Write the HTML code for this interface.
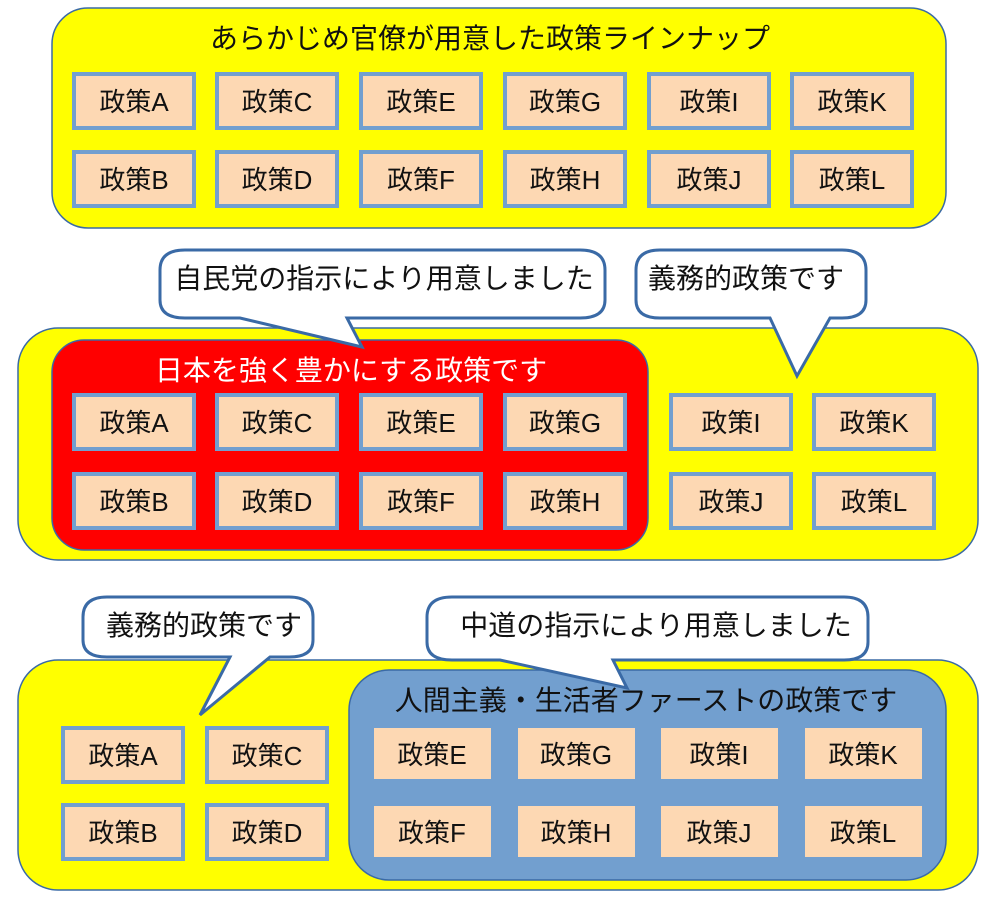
<!DOCTYPE html>
<html><head><meta charset="utf-8"><style>
html,body{margin:0;padding:0;background:#fff;}
svg text{font-family:"Liberation Sans","Noto Sans CJK JP",sans-serif;}
</style></head><body>
<svg width="1004" height="901" viewBox="0 0 1004 901" xmlns="http://www.w3.org/2000/svg">
<defs>
<g id="b"><rect x="2" y="2" width="120" height="54" fill="#fdd8b3" stroke="#729fcf" stroke-width="4"/></g>
</defs>
<!-- Top panel -->
<rect x="52" y="8" width="894" height="220" rx="36" fill="#ffff00" stroke="#3a6aa6" stroke-width="1.5"/>
<text x="490" y="48" font-size="28" text-anchor="middle" fill="#111">あらかじめ官僚が用意した政策ラインナップ</text>
<g font-size="26" text-anchor="middle" fill="#111">
<g transform="translate(72,72)"><use href="#b"/><text x="62" y="39">政策A</text></g>
<g transform="translate(215,72)"><use href="#b"/><text x="62" y="39">政策C</text></g>
<g transform="translate(359,72)"><use href="#b"/><text x="62" y="39">政策E</text></g>
<g transform="translate(503,72)"><use href="#b"/><text x="62" y="39">政策G</text></g>
<g transform="translate(647,72)"><use href="#b"/><text x="62" y="39">政策I</text></g>
<g transform="translate(790,72)"><use href="#b"/><text x="62" y="39">政策K</text></g>
<g transform="translate(72,150)"><use href="#b"/><text x="62" y="39">政策B</text></g>
<g transform="translate(215,150)"><use href="#b"/><text x="62" y="39">政策D</text></g>
<g transform="translate(359,150)"><use href="#b"/><text x="62" y="39">政策F</text></g>
<g transform="translate(503,150)"><use href="#b"/><text x="62" y="39">政策H</text></g>
<g transform="translate(647,150)"><use href="#b"/><text x="62" y="39">政策J</text></g>
<g transform="translate(790,150)"><use href="#b"/><text x="62" y="39">政策L</text></g>
</g>

<!-- Middle panel -->
<rect x="18" y="328" width="960" height="232" rx="40" fill="#ffff00" stroke="#3a6aa6" stroke-width="1.5"/>
<rect x="52" y="340" width="596" height="210" rx="32" fill="#ff0000" stroke="#3a6aa6" stroke-width="1.5"/>
<text x="351" y="380" font-size="28" text-anchor="middle" fill="#fff">日本を強く豊かにする政策です</text>
<g font-size="26" text-anchor="middle" fill="#111">
<g transform="translate(72,393)"><use href="#b"/><text x="62" y="39">政策A</text></g>
<g transform="translate(215,393)"><use href="#b"/><text x="62" y="39">政策C</text></g>
<g transform="translate(359,393)"><use href="#b"/><text x="62" y="39">政策E</text></g>
<g transform="translate(503,393)"><use href="#b"/><text x="62" y="39">政策G</text></g>
<g transform="translate(72,472)"><use href="#b"/><text x="62" y="39">政策B</text></g>
<g transform="translate(215,472)"><use href="#b"/><text x="62" y="39">政策D</text></g>
<g transform="translate(359,472)"><use href="#b"/><text x="62" y="39">政策F</text></g>
<g transform="translate(503,472)"><use href="#b"/><text x="62" y="39">政策H</text></g>
<g transform="translate(669,393)"><use href="#b"/><text x="62" y="39">政策I</text></g>
<g transform="translate(812,393)"><use href="#b"/><text x="62" y="39">政策K</text></g>
<g transform="translate(669,472)"><use href="#b"/><text x="62" y="39">政策J</text></g>
<g transform="translate(812,472)"><use href="#b"/><text x="62" y="39">政策L</text></g>
</g>

<!-- Callouts middle -->
<path d="M185,250 L580,250 Q605,250 605,270 L605,300 Q605,318 580,318 L347,318 L362,347 L240,318 L185,318 Q160,318 160,300 L160,270 Q160,250 185,250 Z" fill="#fff" stroke="#3a6aa6" stroke-width="3"/>
<text x="384" y="288" font-size="28" text-anchor="middle" fill="#111">自民党の指示により用意しました</text>
<path d="M660,250 L842,250 Q866,250 866,270 L866,300 Q866,318 842,318 L830,318 L797,376 L770,318 L660,318 Q636,318 636,300 L636,270 Q636,250 660,250 Z" fill="#fff" stroke="#3a6aa6" stroke-width="3"/>
<text x="746" y="288" font-size="28" text-anchor="middle" fill="#111">義務的政策です</text>

<!-- Bottom panel -->
<rect x="18" y="660" width="960" height="230" rx="40" fill="#ffff00" stroke="#3a6aa6" stroke-width="1.5"/>
<rect x="349" y="670" width="597" height="210" rx="40" fill="#729fcf" stroke="#3a6aa6" stroke-width="1.5"/>
<text x="646" y="710" font-size="28" text-anchor="middle" fill="#111">人間主義・生活者ファーストの政策です</text>
<g font-size="26" text-anchor="middle" fill="#111">
<rect x="374" y="728" width="117" height="51" fill="#fdd8b3"/><text x="432" y="764">政策E</text>
<rect x="518" y="728" width="117" height="51" fill="#fdd8b3"/><text x="576" y="764">政策G</text>
<rect x="661" y="728" width="117" height="51" fill="#fdd8b3"/><text x="719" y="764">政策I</text>
<rect x="805" y="728" width="117" height="51" fill="#fdd8b3"/><text x="863" y="764">政策K</text>
<rect x="374" y="806" width="117" height="51" fill="#fdd8b3"/><text x="432" y="842">政策F</text>
<rect x="518" y="806" width="117" height="51" fill="#fdd8b3"/><text x="576" y="842">政策H</text>
<rect x="661" y="806" width="117" height="51" fill="#fdd8b3"/><text x="719" y="842">政策J</text>
<rect x="805" y="806" width="117" height="51" fill="#fdd8b3"/><text x="863" y="842">政策L</text>
<g transform="translate(61,726)"><use href="#b"/><text x="62" y="39">政策A</text></g>
<g transform="translate(205,726)"><use href="#b"/><text x="62" y="39">政策C</text></g>
<g transform="translate(61,803)"><use href="#b"/><text x="62" y="39">政策B</text></g>
<g transform="translate(205,803)"><use href="#b"/><text x="62" y="39">政策D</text></g>
</g>

<!-- Callouts bottom -->
<path d="M107,597 L289,597 Q313,597 313,617 L313,640 Q313,657 289,657 L270,657 L200,715 L230,657 L107,657 Q83,657 83,640 L83,617 Q83,597 107,597 Z" fill="#fff" stroke="#3a6aa6" stroke-width="3"/>
<text x="204" y="635" font-size="28" text-anchor="middle" fill="#111">義務的政策です</text>
<path d="M452,597 L844,597 Q868,597 868,617 L868,642 Q868,660 844,660 L613,660 L627,688 L500,660 L452,660 Q427,660 427,642 L427,617 Q427,597 452,597 Z" fill="#fff" stroke="#3a6aa6" stroke-width="3"/>
<text x="656" y="635" font-size="28" text-anchor="middle" fill="#111">中道の指示により用意しました</text>
</svg>
</body></html>
